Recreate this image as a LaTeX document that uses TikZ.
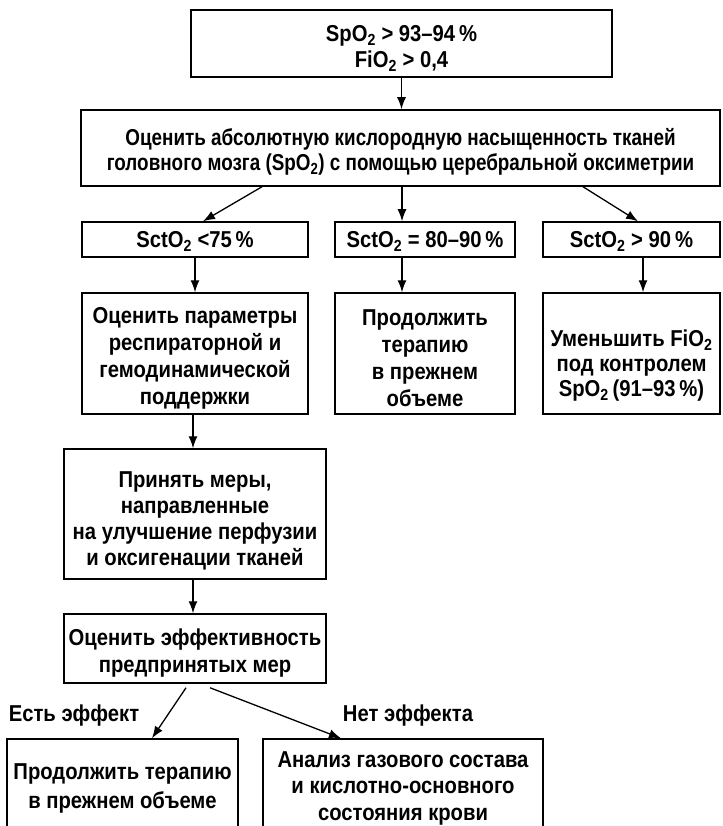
\documentclass[tikz,border=0pt]{standalone}
\usepackage{fontspec}
\setmainfont{Liberation Sans}[FakeStretch=0.88]
\newfontfamily\narrowfont{Liberation Sans}[FakeStretch=0.82]
\usetikzlibrary{arrows.meta,calc}
\tikzset{
  frame/.style={draw, line width=1.5pt, inner sep=0pt},
  txt/.style={inner sep=0pt, align=center, font=\fontsize{23}{26}\selectfont\bfseries},
  arr/.style={line width=1.3pt, -{Latex[length=12pt,width=9pt]}}
}
\newcommand{\two}{\textsubscript{2}}
\begin{document}
\begin{tikzpicture}[x=1pt,y=-1pt]
\useasboundingbox (0,0) rectangle (722,826);
\clip (0,0) rectangle (722,826);
% frames
\node[frame, minimum width=421pt, minimum height=67pt] (top) at (401.5,43.5) {};
\node[frame, minimum width=639pt, minimum height=76pt] (second) at (400.5,148) {};
\node[frame, minimum width=226pt, minimum height=35pt] (s1) at (195,239.5) {};
\node[frame, minimum width=180pt, minimum height=35pt] (s2) at (425,239.5) {};
\node[frame, minimum width=177pt, minimum height=35pt] (s3) at (631.5,239.5) {};
\node[frame, minimum width=226pt, minimum height=121pt] (b1) at (195,353.5) {};
\node[frame, minimum width=180pt, minimum height=121pt] (b2) at (425,353.5) {};
\node[frame, minimum width=177pt, minimum height=121pt] (b3) at (631.5,353.5) {};
\node[frame, minimum width=262pt, minimum height=130pt] (p) at (195,514) {};
\node[frame, minimum width=262pt, minimum height=69pt] (e) at (195,648.5) {};
\node[frame, minimum width=231pt, minimum height=96pt] (bl) at (122.5,787) {};
\node[frame, minimum width=280pt, minimum height=94pt] (br) at (403,786) {};
% texts
\node[txt] (topt) at ([yshift=-5pt]top.center) {SpO\two\ > 93–94\,\%\\FiO\two\ > 0,4};
\node[txt, font=\fontsize{23}{25}\selectfont\narrowfont\bfseries] (secondt) at ([yshift=-4pt]second.center)
  {Оценить абсолютную кислородную насыщенность тканей\\головного мозга (SpO\two) с помощью церебральной оксиметрии};
\node[txt] (s1t) at ([yshift=-2pt]s1.center) {SctO\two\ <75\,\%};
\node[txt] (s2t) at ([yshift=-2pt]s2.center) {SctO\two\ = 80–90\,\%};
\node[txt] (s3t) at ([yshift=-2pt]s3.center) {SctO\two\ > 90\,\%};
\node[txt, font=\fontsize{23}{27}\selectfont\bfseries] (b1t) at ([yshift=-5pt]b1.center)
  {Оценить параметры\\респираторной и\\гемодинамической\\поддержки};
\node[txt, font=\fontsize{23}{27}\selectfont\bfseries] (b2t) at ([yshift=-5pt]b2.center)
  {Продолжить\\терапию\\в прежнем\\объеме};
\node[txt, font=\fontsize{23}{25}\selectfont\bfseries] (b3t) at ([yshift=-12pt]b3.center)
  {Уменьшить FiO\two\\под контролем\\SpO\two\,(91–93\,\%)};
\node[txt] (pt) at ([yshift=-7pt]p.center)
  {Принять меры,\\направленные\\на улучшение перфузии\\и оксигенации тканей};
\node[txt, font=\fontsize{23}{27}\selectfont\bfseries] (et) at ([yshift=-5pt]e.center)
  {Оценить эффективность\\предпринятых мер};
\node[txt, font=\fontsize{23}{29}\selectfont\bfseries] (blt) at ([yshift=-1pt]bl.center)
  {Продолжить терапию\\в прежнем объеме};
\node[txt, font=\fontsize{23}{26.5}\selectfont\bfseries] (brt) at ([yshift=-2pt]br.center)
  {Анализ газового состава\\и кислотно-основного\\состояния крови};
\node[txt] (yes) at (74,716) {Есть эффект};
\node[txt] (no) at (408,716) {Нет эффекта};
% connectors
\draw[arr] (top.south) -- (top.south |- second.north);
\draw[arr] ([xshift=-138.5pt]second.south) -- ([xshift=8pt]s1.north);
\draw[arr] ([xshift=1.5pt]second.south) -- ([xshift=-23pt]s2.north);
\draw[arr] ([xshift=182.5pt]second.south) -- ([xshift=6.5pt]s3.north);
\draw[arr] (s1.south) -- (b1.north);
\draw[arr] ([xshift=-23pt]s2.south) -- ([xshift=-23pt]b2.north);
\draw[arr] ([xshift=11.5pt]s3.south) -- ([xshift=11.5pt]b3.north);
\draw[arr] ([xshift=-2pt]b1.south) -- ([xshift=-2pt]p.north);
\draw[arr] ([xshift=-2pt]p.south) -- ([xshift=-2pt]e.north);
\draw[arr] ([xshift=-9pt,yshift=-4pt]e.south) -- ([xshift=29.5pt]bl.north);
\draw[arr] ([xshift=15pt,yshift=-4pt]e.south) -- ([xshift=-62pt]br.north);
\end{tikzpicture}
\end{document}
